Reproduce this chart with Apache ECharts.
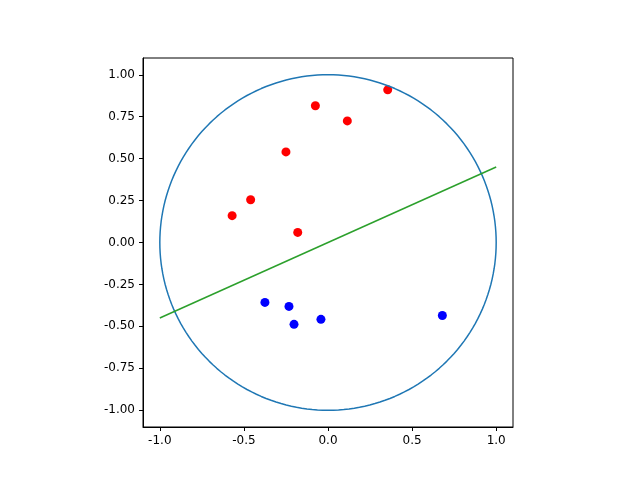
<!DOCTYPE html>
<html>
<head>
<meta charset="UTF-8">
<title></title>
<script src="https://cdn.jsdelivr.net/npm/echarts@6/dist/echarts.min.js"></script>
<style>html,body{margin:0;padding:0;background:#fff;}</style>
</head>
<body>
<div id="main" style="width:640px;height:480px;"></div>
<script>
var redPoints = [[-0.57, 0.16], [-0.46, 0.255], [-0.25, 0.54], [-0.075, 0.815], [0.115, 0.725], [0.355, 0.91], [-0.18, 0.06]];
var bluePoints = [[-0.375, -0.357], [-0.232, -0.381], [-0.202, -0.488], [-0.042, -0.458], [0.68, -0.435]];
var linePoints = [[-1.0, -0.45], [1.0, 0.45]];
var xTicks = [-1.0, -0.5, 0.0, 0.5, 1.0];
var yTicks = [-1.0, -0.75, -0.5, -0.25, 0.0, 0.25, 0.5, 0.75, 1.0];

// unit circle outline
var circle = [];
for (var i = 0; i <= 200; i++) {
    var t = i / 200 * Math.PI * 2;
    circle.push([Math.cos(t), Math.sin(t)]);
}

var font = 'DejaVu Sans';
var myChart = echarts.init(document.getElementById('main'));
var axisCommon = {
    min: -1.1, max: 1.1,
    splitLine: {show: false},
    axisLine: {onZero: false, lineStyle: {color: '#000', width: 1}},
    axisTick: {length: 4, lineStyle: {color: '#000'}}
};
option = {
    animation: false,
    grid: {left: 143, right: 127, top: 58, bottom: 53, show: true, borderColor: '#000', borderWidth: 1},
    xAxis: echarts.util.merge({
        type: 'value',
        axisTick: {customValues: xTicks},
        axisLabel: {customValues: xTicks, color: '#000', fontFamily: font, fontSize: 12,
            formatter: function (v) { return v.toFixed(1); }}
    }, axisCommon),
    yAxis: echarts.util.merge({
        type: 'value',
        axisTick: {customValues: yTicks},
        axisLabel: {customValues: yTicks, color: '#000', fontFamily: font, fontSize: 12,
            formatter: function (v) { return v.toFixed(2); }}
    }, axisCommon),
    series: [
        {type: 'line', data: circle, showSymbol: false, lineStyle: {color: '#1f77b4', width: 1.5}},
        {type: 'line', data: linePoints, showSymbol: false, lineStyle: {color: '#2ca02c', width: 1.5}},
        {type: 'scatter', data: redPoints, symbolSize: 9, itemStyle: {color: '#ff0000', opacity: 1}},
        {type: 'scatter', data: bluePoints, symbolSize: 9, itemStyle: {color: '#0000ff', opacity: 1}}
    ]
};
myChart.setOption(option);
</script>
</body>
</html>
